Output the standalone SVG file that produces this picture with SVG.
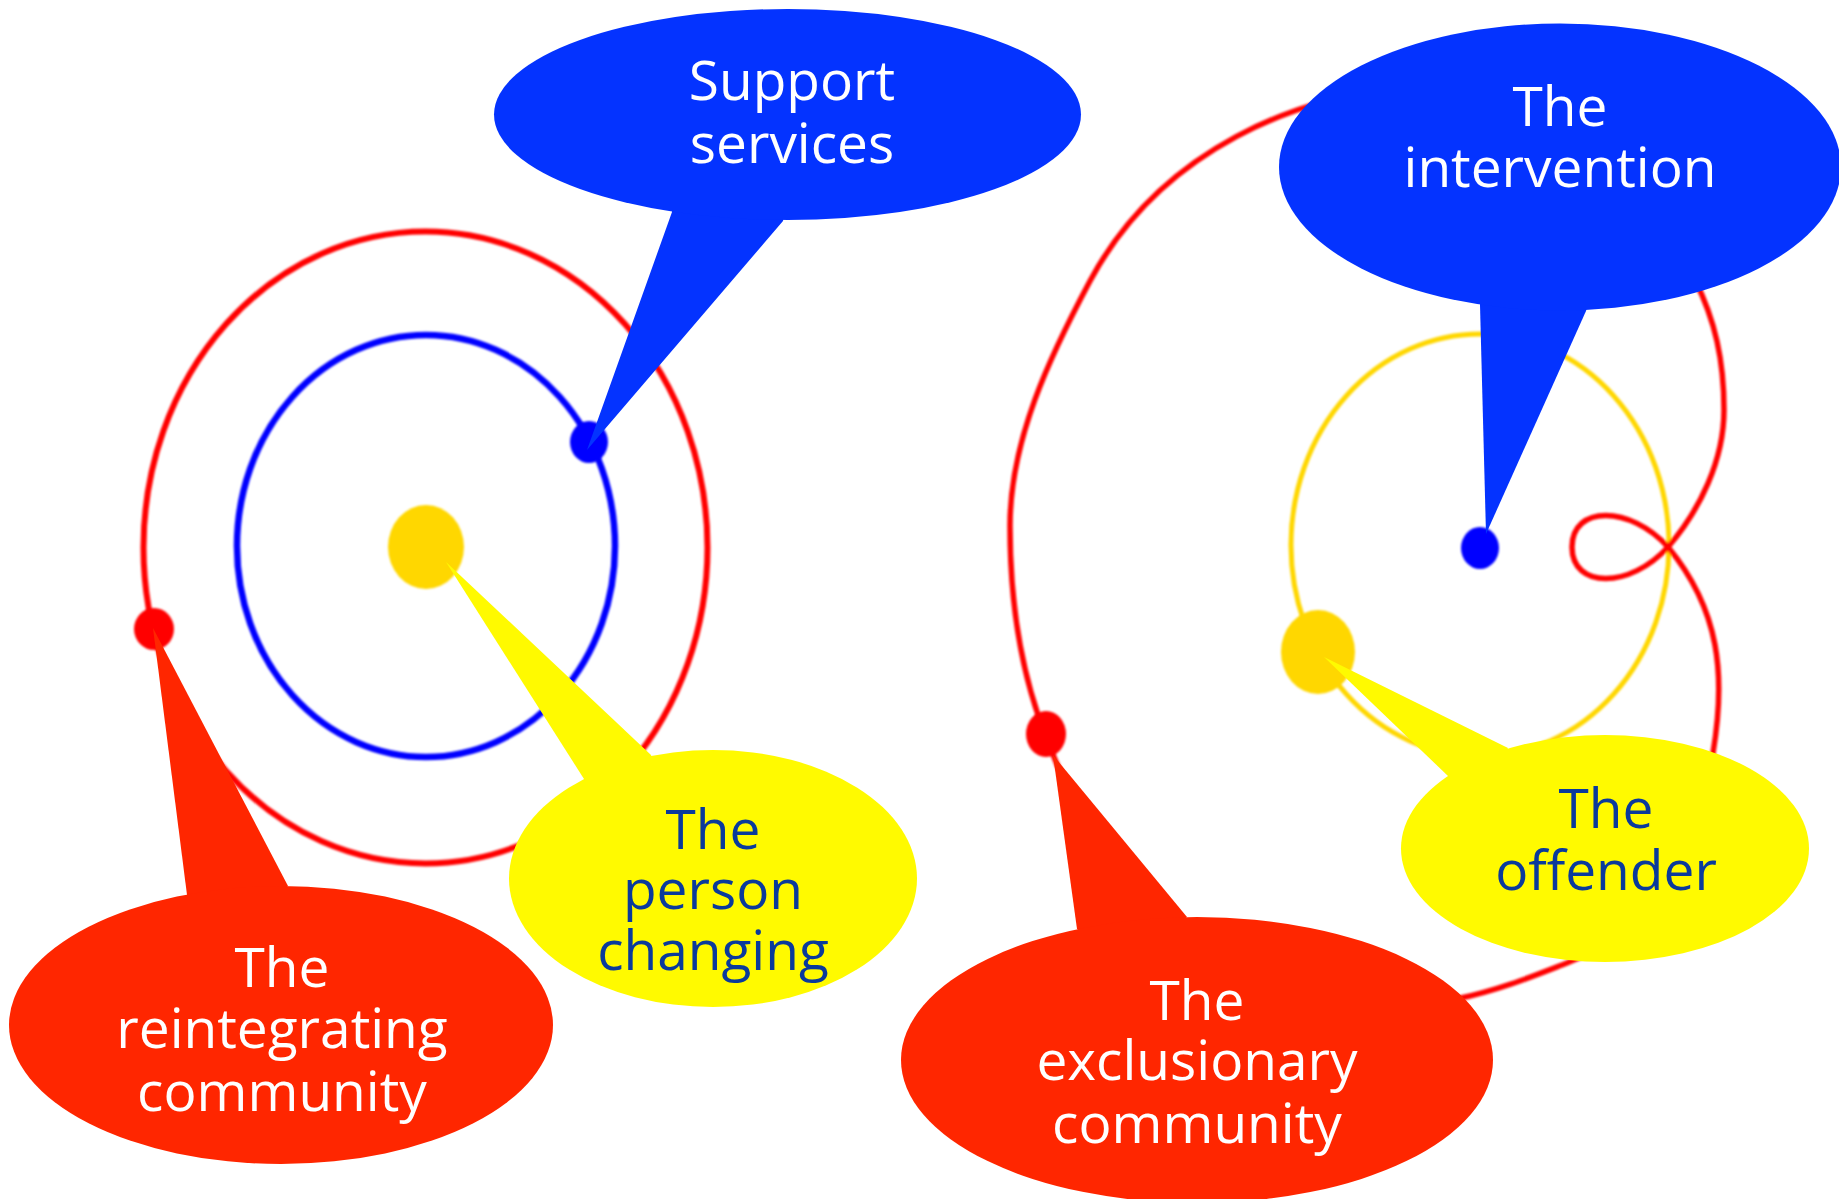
<svg xmlns="http://www.w3.org/2000/svg" width="1839" height="1199" viewBox="0 0 1839 1199">
  <defs>
    <filter id="soft" x="-5%" y="-5%" width="110%" height="110%">
      <feGaussianBlur stdDeviation="0.9"/>
    </filter>
  </defs>
  <style>
    .ring { fill: none; }
    .ring-red { stroke: #FF0000; stroke-width: 6; }
    .ring-red-thin { stroke: #FF0000; stroke-width: 5.5; }
    .ring-blue { stroke: #0000FF; stroke-width: 6.5; }
    .ring-gold { stroke: #FFD700; stroke-width: 5; }
    .dot-red { fill: #FF0000; }
    .dot-blue { fill: #0000FF; }
    .dot-gold { fill: #FFD700; }
    .c-blue { fill: #0433FF; }
    .c-red { fill: #FF2600; }
    .c-yellow { fill: #FFFA00; }
    text { font-family: "Open Sans", "Noto Sans", "Liberation Sans", sans-serif; font-size: 55px; text-anchor: middle; }
    .t-light { fill: #FFFFFF; }
    .t-dark { fill: #0A3A9C; }
  </style>

  <rect width="1839" height="1199" fill="#FFFFFF"/>

  <!-- orbits: left = reintegrating model, right = exclusionary model -->
  <g id="orbits" filter="url(#soft)">
    <ellipse class="ring ring-red" cx="425.5" cy="547.5" rx="282" ry="316"/>
    <ellipse class="ring ring-blue" cx="426" cy="546" rx="189" ry="211"/>
    <ellipse class="ring ring-gold" cx="1480" cy="545" rx="189" ry="211"/>
    <path class="ring ring-red-thin" d="M 1420 86 C 1300 92 1160 150 1090 281 C 1050 356 1010 440 1010 526 C 1010 600 1020 670 1045 734 C 1070 800 1130 960 1330 1000 C 1430 1020 1510 985 1567 963 C 1640 935 1700 840 1713 753 C 1726 675 1720 610 1668 547 C 1630 505 1572 505 1572 547 C 1572 589 1630 589 1668 547 C 1700 510 1724 460 1724 410 C 1724 360 1715 320 1695 280 C 1680 250 1660 230 1640 220"/>
  </g>

  <g id="markers" filter="url(#soft)">
    <ellipse class="dot-gold" cx="426" cy="547" rx="38" ry="42"/>
    <ellipse class="dot-blue" cx="589" cy="442" rx="19" ry="21"/>
    <ellipse class="dot-red" cx="154" cy="629" rx="20" ry="21"/>
    <ellipse class="dot-gold" cx="1318" cy="652" rx="37" ry="42"/>
    <ellipse class="dot-blue" cx="1480" cy="548" rx="19" ry="21"/>
    <ellipse class="dot-red" cx="1046" cy="734" rx="20" ry="23"/>
  </g>

  <!-- callout pointers -->
  <g id="connectors">
    <polygon class="c-blue" points="672,200 787,200 783,221 587,450 672,212"/>
    <polygon class="c-yellow" points="584,779 446,562 651,755 660,790"/>
    <polygon class="c-red" points="187,895 153,628 288,886 250,920"/>
    <polygon class="c-blue" points="1480,295 1590,295 1586,311 1486,534 1480,305"/>
    <polygon class="c-yellow" points="1448,776 1324,657 1508,748 1490,790"/>
    <polygon class="c-red" points="1077,929 1053,755 1187,917 1130,960"/>
  </g>

  <g id="support-services">
    <ellipse class="c-blue" cx="787.5" cy="114.5" rx="293.5" ry="105.5"/>
    <text class="t-light" x="792" y="100">Support<tspan x="792" dy="63">services</tspan></text>
  </g>

  <g id="person-changing">
    <ellipse class="c-yellow" cx="713" cy="878.5" rx="204" ry="128.5"/>
    <text class="t-dark" x="713" y="849">The<tspan x="713" dy="60">person</tspan><tspan x="713" dy="61">changing</tspan></text>
  </g>

  <g id="reintegrating-community">
    <ellipse class="c-red" cx="281" cy="1025" rx="272" ry="139"/>
    <text class="t-light" x="282" y="987">The<tspan x="282" dy="61">reintegrating</tspan><tspan x="282" dy="63">community</tspan></text>
  </g>

  <g id="the-intervention">
    <ellipse class="c-blue" cx="1560" cy="167" rx="281" ry="143.5"/>
    <text class="t-light" x="1560" y="126">The<tspan x="1560" dy="61">intervention</tspan></text>
  </g>

  <g id="the-offender">
    <ellipse class="c-yellow" cx="1605" cy="848.5" rx="204" ry="113.5"/>
    <text class="t-dark" x="1606" y="828">The<tspan x="1606" dy="62">offender</tspan></text>
  </g>

  <g id="exclusionary-community">
    <ellipse class="c-red" cx="1197" cy="1060" rx="296" ry="143"/>
    <text class="t-light" x="1197" y="1020">The<tspan x="1197" dy="60">exclusionary</tspan><tspan x="1197" dy="63">community</tspan></text>
  </g>
</svg>
